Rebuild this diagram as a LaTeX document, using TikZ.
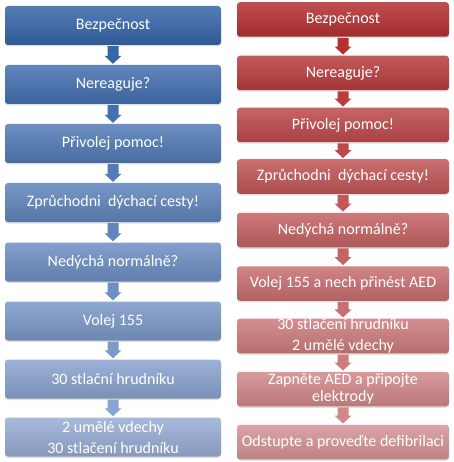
\documentclass[tikz,border=0pt]{standalone}
\usepackage{fontspec}
\setmainfont{Carlito}
\usetikzlibrary{calc,shadows}
\definecolor{blueA}{RGB}{54,102,170}
\definecolor{blueB}{RGB}{152,174,214}
\definecolor{redA}{RGB}{182,48,50}
\definecolor{redB}{RGB}{214,148,150}
\colorlet{L1}{blueA!100!blueB}
\colorlet{L2}{blueA!86!blueB}
\colorlet{L3}{blueA!71!blueB}
\colorlet{L4}{blueA!57!blueB}
\colorlet{L5}{blueA!43!blueB}
\colorlet{L6}{blueA!29!blueB}
\colorlet{L7}{blueA!14!blueB}
\colorlet{L8}{blueA!0!blueB}
\colorlet{R1}{redA!100!redB}
\colorlet{R2}{redA!88!redB}
\colorlet{R3}{redA!75!redB}
\colorlet{R4}{redA!62!redB}
\colorlet{R5}{redA!50!redB}
\colorlet{R6}{redA!38!redB}
\colorlet{R7}{redA!25!redB}
\colorlet{R8}{redA!12!redB}
\colorlet{R9}{redA!0!redB}
\tikzset{
  flowbox/.style={rounded corners=3pt, inner sep=0pt, text=white, align=center,
    font=\fontsize{16}{19}\selectfont,
    top color=#1!85!white, bottom color=#1!88!black,
    drop shadow={opacity=0.25, shadow xshift=0pt, shadow yshift=-1.5pt}},
  lbox/.style={flowbox=#1, minimum width=216pt, minimum height=39pt},
  rbox/.style={flowbox=#1, minimum width=212pt, minimum height=34.5pt},
}
\newcommand\blockarrow[3]{%
  \path (#1.south) coordinate (ta) (#2.north) coordinate (tb);
  \fill[#3] ($(ta)+(-5.5,-1)$) -- ($(ta)+(5.5,-1)$) -- ($(tb)+(5.5,9)$) -- ($(tb)+(8.5,9)$)
    -- ($(tb)+(0,1)$) -- ($(tb)+(-8.5,9)$) -- ($(tb)+(-5.5,9)$) -- cycle;}
\begin{document}
\begin{tikzpicture}[x=1pt,y=1pt]
\useasboundingbox (0,0) rectangle (453,-462);
% left column
\node[lbox=L1] (l1) at (113,-25.5) {Bezpečnost};
\node[lbox=L2] (l2) at (113,-84.5) {Nereaguje?};
\node[lbox=L3] (l3) at (113,-143.5) {Přivolej pomoc!};
\node[lbox=L4] (l4) at (113,-202.5) {Zprůchodni\ \ dýchací cesty!};
\node[lbox=L5] (l5) at (113,-262) {Nedýchá normálně?};
\node[lbox=L6] (l6) at (113,-321) {Volej 155};
\node[lbox=L7] (l7) at (113,-379) {30 stlační hrudníku};
\node[lbox=L8, font=\fontsize{16}{21}\selectfont] (l8) at (113,-437) {2 umělé vdechy\\30 stlačení hrudníku};
\blockarrow{l1}{l2}{L1}
\blockarrow{l2}{l3}{L2}
\blockarrow{l3}{l4}{L3}
\blockarrow{l4}{l5}{L4}
\blockarrow{l5}{l6}{L5}
\blockarrow{l6}{l7}{L6}
\blockarrow{l7}{l8}{L7}
% right column
\node[rbox=R1] (r1) at (343,-19.5) {Bezpečnost};
\node[rbox=R2] (r2) at (343,-73) {Nereaguje?};
\node[rbox=R3] (r3) at (343,-125) {Přivolej pomoc!};
\node[rbox=R4] (r4) at (343,-176.5) {Zprůchodni\ \ dýchací cesty!};
\node[rbox=R5] (r5) at (343,-230) {Nedýchá normálně?};
\node[rbox=R6] (r6) at (343,-283.5) {Volej 155 a nech přinést AED};
\node[rbox=R7, font=\fontsize{16}{21}\selectfont] (r7) at (343,-336) {30 stlačení hrudníku\\2 umělé vdechy};
\node[rbox=R8, font=\fontsize{16}{17}\selectfont] (r8) at (343,-389) {Zapněte AED a připojte\\elektrody};
\node[rbox=R9] (r9) at (343,-442) {Odstupte a proveďte defibrilaci};
\blockarrow{r1}{r2}{R1}
\blockarrow{r2}{r3}{R2}
\blockarrow{r3}{r4}{R3}
\blockarrow{r4}{r5}{R4}
\blockarrow{r5}{r6}{R5}
\blockarrow{r6}{r7}{R6}
\blockarrow{r7}{r8}{R7}
\blockarrow{r8}{r9}{R8}
\end{tikzpicture}
\end{document}
